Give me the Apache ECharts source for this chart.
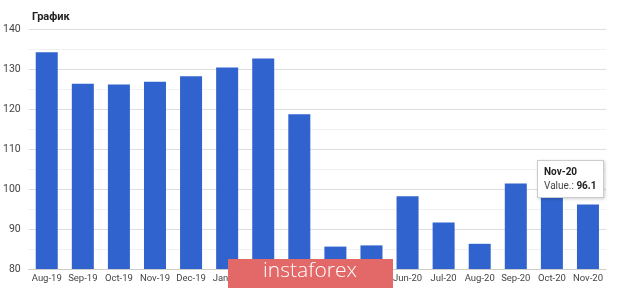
<!DOCTYPE html>
<html>
<head>
<meta charset="utf-8">
<script src="https://cdn.jsdelivr.net/npm/echarts@6/dist/echarts.min.js"></script>
<style>
html,body{margin:0;padding:0;background:#fff;}
#c{width:620px;height:288px;}
</style>
</head>
<body>
<div id="c"></div>
<script>
const categories = ['Aug-19','Sep-19','Oct-19','Nov-19','Dec-19','Jan-20','Feb-20','Mar-20','Apr-20','May-20','Jun-20','Jul-20','Aug-20','Sep-20','Oct-20','Nov-20'];
const values = [134.2,126.3,126.1,126.8,128.2,130.4,132.6,118.7,85.6,85.9,98.2,91.6,86.3,101.4,98.3,96.1];
const yTicks = [80,90,100,110,120,130,140];
const title = 'График';
const seriesName = 'Value.';
const watermark = 'instaforex';

const chart = echarts.init(document.getElementById('c'), null, {renderer:'canvas'});
chart.setOption({
  animation: false,
  backgroundColor: '#fff',
  title: {
    text: title, left: 27, top: 7,
    textStyle: {fontFamily: 'Roboto, Arial, sans-serif', fontSize: 11, fontWeight: 'bold', color: '#222'}
  },
  grid: {left: 28, right: 14, top: 29, bottom: 19, containLabel: false},
  tooltip: {
    trigger: 'item',
    alwaysShowContent: true,
    triggerOn: 'none',
    position: function(){ return [537, 160]; },
    backgroundColor: '#fff',
    borderColor: '#ccc',
    borderWidth: 1,
    borderRadius: 0,
    padding: [4, 6],
    extraCssText: 'box-shadow:1px 1px 3px rgba(0,0,0,0.2);line-height:14px;',
    textStyle: {fontFamily: 'Roboto, Arial, sans-serif', fontSize: 10, color: '#222'},
    formatter: function(p){
      return '<b>' + p.name + '</b><br/><span style="color:#444">' + seriesName + ': </span><b>' + p.value + '</b>';
    }
  },
  xAxis: {
    type: 'category',
    data: categories,
    axisTick: {show: false},
    axisLine: {show: true, lineStyle: {color: '#ccc'}},
    axisLabel: {fontFamily: 'Roboto, Arial, sans-serif', fontSize: 9.5, color: '#444', margin: 5, interval: 0}
  },
  yAxis: {
    type: 'value',
    min: yTicks[0], max: yTicks[yTicks.length-1], interval: 10,
    axisLine: {show: false},
    axisTick: {show: false},
    axisLabel: {fontFamily: 'Roboto, Arial, sans-serif', fontSize: 10.5, color: '#444', margin: 8},
    splitLine: {lineStyle: {color: '#ddd', width: 1}},
    minorTick: {show: false, splitNumber: 2},
    minorSplitLine: {show: true, lineStyle: {color: '#f1f1f1', width: 1}}
  },
  series: [{
    name: seriesName,
    type: 'bar',
    data: values,
    barWidth: '61%',
    itemStyle: {color: '#3063cd'},
    emphasis: {disabled: true}
  }],
  graphic: [
    {type: 'rect', left: 228, top: 259, z: 100,
     shape: {width: 165, height: 29},
     style: {fill: '#e36868'}},
    {type: 'text', left: 'center', top: 261, z: 101, x: 0,
     style: {text: watermark, fill: '#fff', font: '300 21px "Open Sans", Lato, sans-serif', x: 310, textAlign: 'center'},
     position: [0,0]}
  ]
});
chart.dispatchAction({type: 'showTip', seriesIndex: 0, dataIndex: 15});
</script>
</body>
</html>
